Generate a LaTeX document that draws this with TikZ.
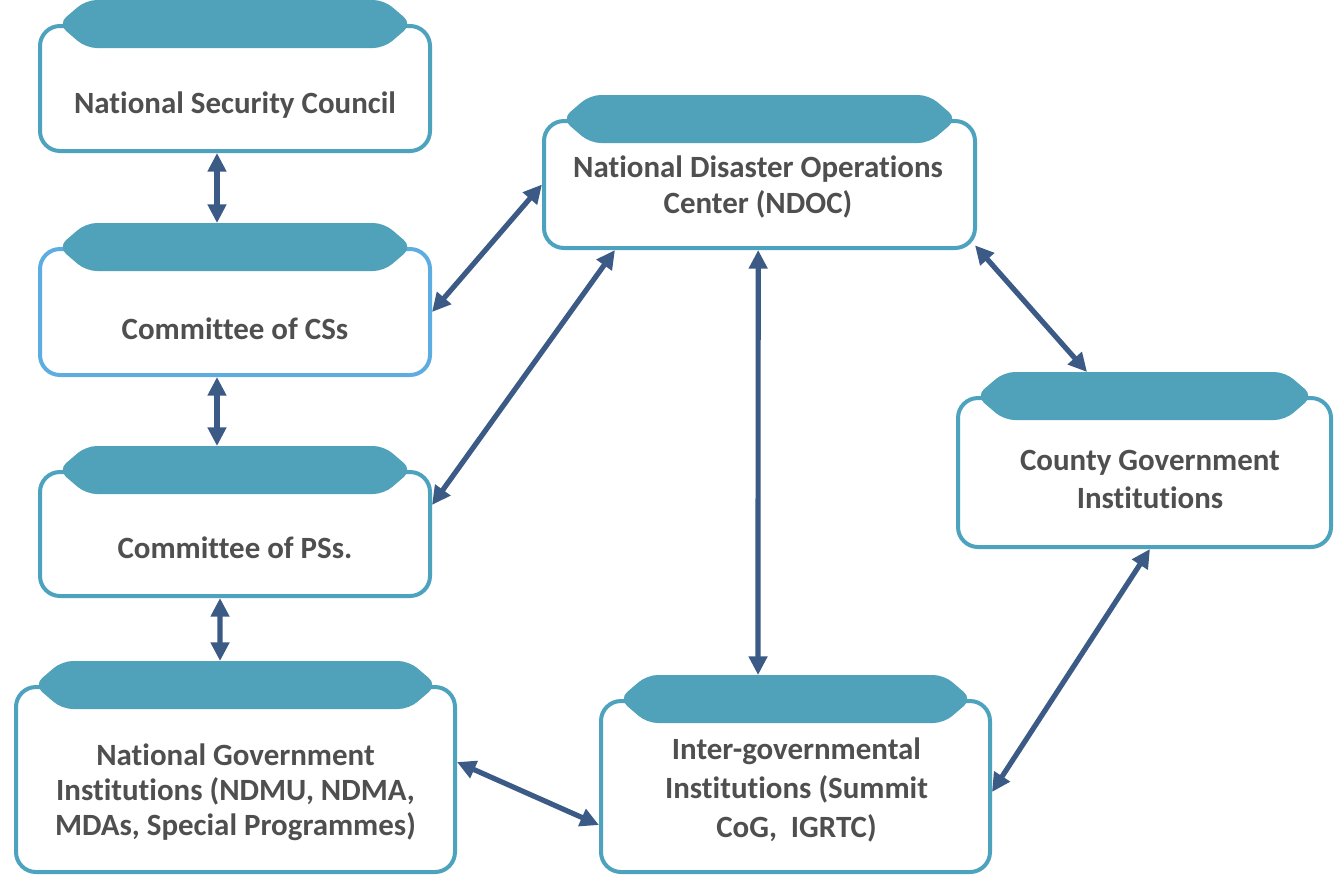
\documentclass[tikz,border=0pt]{standalone}
\usepackage{fontspec}
\setmainfont{Carlito}[Ligatures=NoCommon]
\usetikzlibrary{arrows.meta,calc}
\definecolor{tabc}{HTML}{50A1BA}
\definecolor{boxc}{HTML}{4DA3BE}
\definecolor{boxlc}{HTML}{5DADE2}
\definecolor{arrc}{HTML}{3C5A86}
\definecolor{txtc}{HTML}{4F4F4F}
\newcommand\boxtab[1]{%
  \fill[tabc, rounded corners=8pt]
    ($(#1.north west)+(20,0)$) -- ($(#1.north west)+(48,-24)$) --
    ($(#1.north east)+(-48,-24)$) -- ($(#1.north east)+(-20,0)$) --
    ($(#1.north east)+(-48,24)$) -- ($(#1.north west)+(48,24)$) -- cycle;}
\begin{document}
\begin{tikzpicture}[x=0.75pt,y=-0.75pt,
  box/.style={draw=boxc, line width=3pt, fill=white, rounded corners=15pt,
    inner sep=0pt, shape=rectangle},
  lbl/.style={text=txtc, font=\fontsize{23.2}{27}\selectfont\bfseries,
    align=center, anchor=base, inner sep=0pt},
  link/.style={draw=arrc, line width=3.9pt,
    {Triangle[length=14pt,width=13.5pt]}-{Triangle[length=14pt,width=13.5pt]}}]
\useasboundingbox (0,0) rectangle (1334,876);
% boxes
\node[box, minimum width=292.5pt, minimum height=93.75pt] (nsc) at (235,88.5) {};
\node[box, draw=boxlc, minimum width=292.5pt, minimum height=94.5pt] (ccs) at (235,312) {};
\node[box, minimum width=292.5pt, minimum height=93pt] (pss) at (235,534) {};
\node[box, minimum width=329.25pt, minimum height=138.75pt] (ngi) at (235.5,779.5) {};
\node[box, minimum width=323.25pt, minimum height=95.25pt] (ndoc) at (759.5,184.5) {};
\node[box, minimum width=279.75pt, minimum height=111.75pt] (county) at (1144.5,472.5) {};
\node[box, minimum width=291.75pt, minimum height=128.25pt] (inter) at (795.5,786.5) {};
% tabs
\boxtab{nsc}\boxtab{ccs}\boxtab{pss}\boxtab{ngi}
\boxtab{ndoc}\boxtab{county}\boxtab{inter}
% texts (multi-line: base = last line)
\node[lbl] (nsc-t) at (235,113) {National Security Council};
\node[lbl] (ccs-t) at (235,339) {Committee of CSs};
\node[lbl] (pss-t) at (235,558) {Committee of PSs.};
\node[lbl] (ndoc-t) at (758,213) {National Disaster Operations\\Center (NDOC)};
\node[lbl, font=\fontsize{23.2}{28.5}\selectfont\bfseries] (county-t) at (1150,508) {County Government\\Institutions};
\node[lbl, font=\fontsize{23.2}{28.9}\selectfont\bfseries] (inter-t) at (796.5,837) {Inter-governmental\\Institutions (Summit\\CoG,\ \ IGRTC)};
\node[lbl, font=\fontsize{23.2}{26.25}\selectfont\bfseries] (ngi-t) at (235.5,835) {National Government\\Institutions (NDMU, NDMA,\\MDAs, Special Programmes)};
% connectors
\draw[link] ([xshift=-13.5pt]nsc.south) -- ([xshift=-13.5pt,yshift=18pt]ccs.north);
\draw[link] ([xshift=-13.5pt]ccs.south) -- ([xshift=-13.5pt,yshift=18pt]pss.north);
\draw[link] ([xshift=-11.25pt]pss.south) -- ([xshift=-11.6pt,yshift=18pt]ngi.north);
\draw[link] (ccs.east) -- (ndoc.west);
\draw[link] ([yshift=21.75pt]pss.east) -- ([xshift=-108.4pt]ndoc.south);
\draw[link] ([xshift=-1pt]ndoc.south) -- ([xshift=-28.1pt,yshift=18pt]inter.north);
\draw[link] ([xshift=-1.5pt,yshift=3.5pt]ndoc.south east) -- ([xshift=-43.1pt,yshift=18pt]county.north);
\draw[link] ([xshift=4.1pt]county.south) -- ([yshift=-4.1pt]inter.east);
\draw[link] ([yshift=13.1pt]ngi.east) -- ([yshift=-28.9pt]inter.west);
\end{tikzpicture}
\end{document}
